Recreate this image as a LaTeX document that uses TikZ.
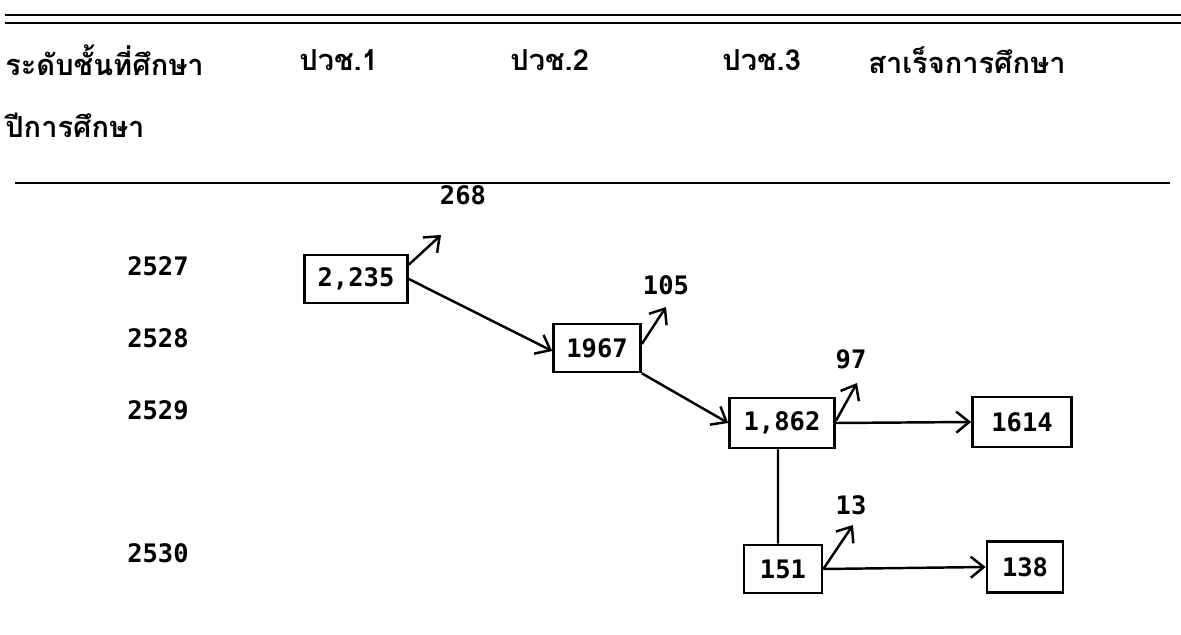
\documentclass[tikz,border=0pt]{standalone}
\usepackage{fontspec}
\usetikzlibrary{arrows.meta}
\newfontfamily\thaifont[Script=Thai]{Loma}
\newfontfamily\numfont{DejaVu Sans Mono}
\tikzset{
  thai/.style={font=\thaifont\bfseries\fontsize{16.5}{20}\selectfont, inner sep=0pt},
  num/.style={font=\numfont\bfseries\fontsize{14.5}{17}\selectfont, inner sep=0pt},
  bx/.style={draw, line width=1.5pt, inner sep=0pt, font=\numfont\bfseries\fontsize{14.5}{17}\selectfont},
  arr/.style={line width=1.4pt, -{Straight Barb[length=2.6mm,width=4.2mm]}},
  ln/.style={line width=1.4pt},
  rule/.style={line width=1.5pt}
}
\begin{document}
\begin{tikzpicture}[x=0.02cm,y=-0.02cm]
\useasboundingbox (0,0) rectangle (1181,635);
% rules
\coordinate (r1a) at (5,15); \coordinate (r1b) at (1181,15);
\coordinate (r2a) at (5,23); \coordinate (r2b) at (1181,23);
\coordinate (r3a) at (15,183); \coordinate (r3b) at (1170,183);
\draw[rule] (r1a) -- (r1b);
\draw[rule] (r2a) -- (r2b);
\draw[rule] (r3a) -- (r3b);
% header
\node[thai, anchor=west] (h0) at (5,60) {ระดับชั้นที่ศึกษา};
\node[thai, anchor=west] (h1) at (299,60) {ปวช.1};
\node[thai, anchor=west] (h2) at (510,60) {ปวช.2};
\node[thai, anchor=west] (h3) at (722,60) {ปวช.3};
\node[thai, anchor=west] (h4) at (868,60) {สาเร็จการศึกษา};
\node[thai, anchor=west] (h5) at (5,125) {ปีการศึกษา};
% years
\node[num] (y1) at (158,266) {2527};
\node[num] (y2) at (158,338) {2528};
\node[num] (y3) at (158,410) {2529};
\node[num] (y4) at (158,553) {2530};
% boxes
\node[bx, minimum width=2.06cm, minimum height=0.96cm] (b1) at (356,279) {2,235};
\node[bx, minimum width=1.74cm, minimum height=0.96cm] (b2) at (597,348) {1967};
\node[bx, minimum width=2.1cm, minimum height=1.0cm] (b3) at (782,423) {1,862};
\node[bx, minimum width=1.98cm, minimum height=1.0cm] (b4) at (1022,422) {1614};
\node[bx, minimum width=1.56cm, minimum height=0.96cm] (b5) at (783,569) {151};
\node[bx, minimum width=1.52cm, minimum height=1.02cm] (b6) at (1025,567) {138};
% labels
\node[num] (l1) at (463,195) {268};
\node[num] (l2) at (666,285) {105};
\node[num] (l3) at (851,359) {97};
\node[num] (l4) at (851,505) {13};
% small arrow ends
\coordinate (e1) at (441,235);
\coordinate (e2) at (666,307);
\coordinate (e3) at (857,383);
\coordinate (e4) at (853,525);
% connectors
\draw[arr] ([yshift=-0.22cm]b1.north east) -- (e1);
\draw[arr] (b1.east) -- ([yshift=-0.06cm]b2.west);
\draw[arr] ([yshift=0.08cm]b2.east) -- (e2);
\draw[arr] (b2.south east) -- (b3.west);
\draw[arr] ([yshift=0.04cm]b3.east) -- (e3);
\draw[arr] (b3.east) -- (b4.west);
\draw[ln] ([xshift=-0.08cm]b3.south) -- ([xshift=-0.1cm]b5.north);
\draw[arr] (b5.east) -- (e4);
\draw[arr] (b5.east) -- (b6.west);
\end{tikzpicture}
\end{document}
